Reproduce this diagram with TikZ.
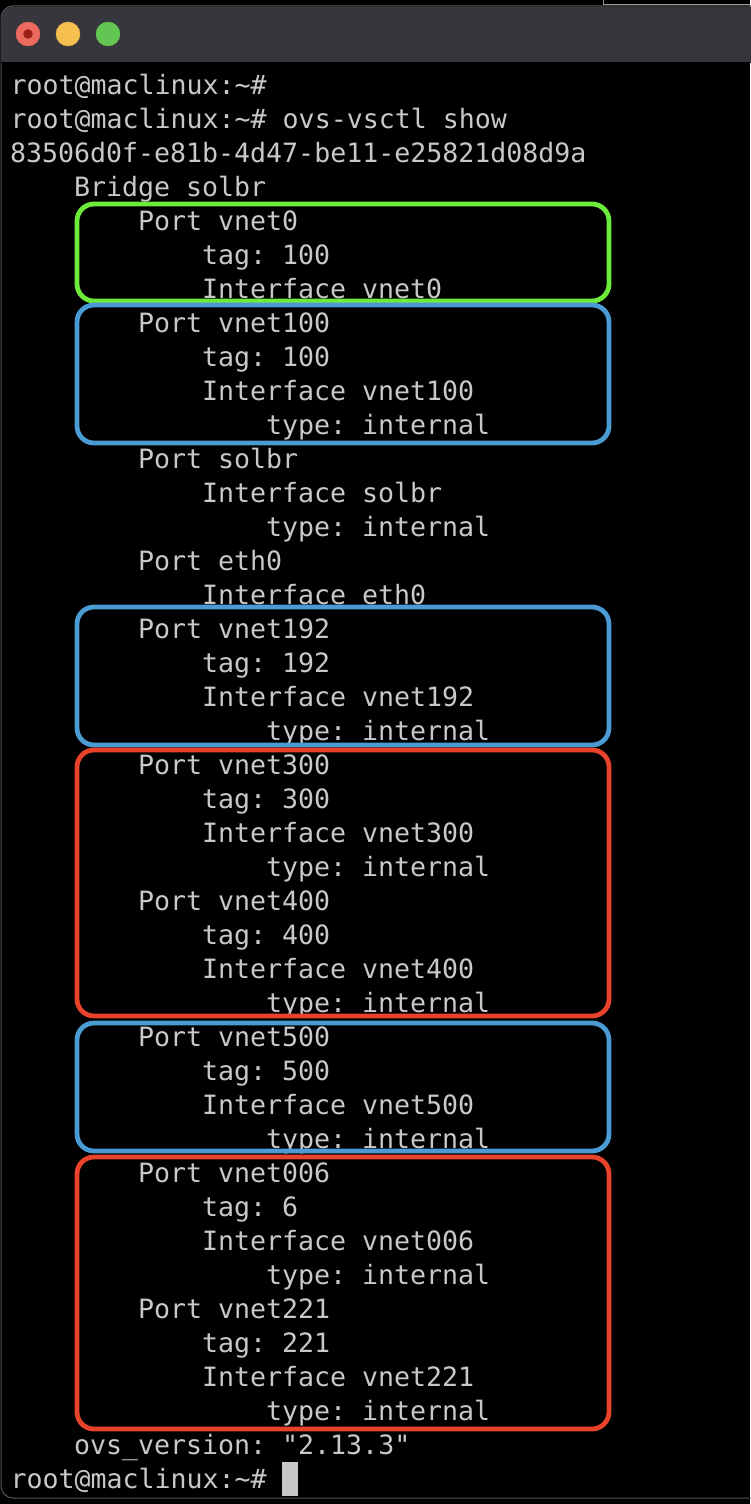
\documentclass[tikz,border=0pt]{standalone}
\usepackage{fontspec}
\newfontfamily\termfont{DejaVu Sans Mono}
\definecolor{termtext}{HTML}{C8C8C8}
\definecolor{titlebar}{HTML}{38363D}
\definecolor{windowedge}{HTML}{55555A}
\definecolor{lightred}{HTML}{EC6A5E}
\definecolor{lightdot}{HTML}{9A1F17}
\definecolor{lightyellow}{HTML}{F4BF4F}
\definecolor{lightgreen}{HTML}{62C554}
\definecolor{framegreen}{HTML}{6CEB3A}
\definecolor{frameblue}{HTML}{4A9BD4}
\definecolor{framered}{HTML}{E8432A}
\tikzset{
  termline/.style={anchor=base west, inner sep=0pt, outer sep=0pt, text=termtext,
    font=\termfont\frenchspacing\fontsize{26.6}{34}\selectfont},
  portframe/.style={line width=4.8pt, rounded corners=17pt},
}
\begin{document}
\begin{tikzpicture}[x=1pt, y=-1pt]
    \useasboundingbox (0,0) rectangle (750,1504);
    \fill[black] (0,0) rectangle (750,1504);

    % window
    \draw[windowedge, line width=1pt, rounded corners=12pt] (751,1498) -- (1,1498) -- (1,6) -- (751,6);
    \fill[titlebar, rounded corners=12pt] (1.5,63) -- (1.5,6.5) -- (762,6.5) -- (762,63) -- cycle;
    \fill[titlebar] (1.5,40) rectangle (750,62);
    \draw[black, line width=1.5pt] (1,62.5) -- (750,62.5);
    \draw[windowedge!60, line width=1pt] (603,0) -- (603,5);
    \draw[windowedge!60, line width=1pt] (603,5) -- (750,5);

    \filldraw[lightred] (28,34) circle (12);
    \filldraw[lightdot] (28,34) circle (4.5);
    \filldraw[lightyellow] (68,34) circle (12);
    \filldraw[lightgreen] (108,34) circle (12);

    % terminal lines
    \node[termline] (prompta) at (10.5,94) {root@maclinux:\textasciitilde\#};
    \node[termline] (promptb) at (10.5,128) {root@maclinux:\textasciitilde\# ovs-vsctl show};
    \node[termline] (uuid) at (10,162) {83506d0f-e81b-4d47-be11-e25821d08d9a};
    \node[termline] (bridge) at (74,196) {Bridge solbr};

    \node[termline] (portvneta) at (138,230) {Port vnet0};
    \node[termline] (tagvneta) at (202,264) {tag: 100};
    \node[termline] (ifvneta) at (202,298) {Interface vnet0};

    \node[termline] (portvnetb) at (138,332) {Port vnet100};
    \node[termline] (tagvnetb) at (202,366) {tag: 100};
    \node[termline] (ifvnetb) at (202,400) {Interface vnet100};
    \node[termline] (typevnetb) at (266,434) {type: internal};

    \node[termline] (portsolbr) at (138,468) {Port solbr};
    \node[termline] (ifsolbr) at (202,502) {Interface solbr};
    \node[termline] (typesolbr) at (266,536) {type: internal};

    \node[termline] (porteth) at (138,570) {Port eth0};
    \node[termline] (ifeth) at (202,604) {Interface eth0};

    \node[termline] (portvnetc) at (138,638) {Port vnet192};
    \node[termline] (tagvnetc) at (202,672) {tag: 192};
    \node[termline] (ifvnetc) at (202,706) {Interface vnet192};
    \node[termline] (typevnetc) at (266,740) {type: internal};

    \node[termline] (portvnetd) at (138,774) {Port vnet300};
    \node[termline] (tagvnetd) at (202,808) {tag: 300};
    \node[termline] (ifvnetd) at (202,842) {Interface vnet300};
    \node[termline] (typevnetd) at (266,876) {type: internal};

    \node[termline] (portvnete) at (138,910) {Port vnet400};
    \node[termline] (tagvnete) at (202,944) {tag: 400};
    \node[termline] (ifvnete) at (202,978) {Interface vnet400};
    \node[termline] (typevnete) at (266,1012) {type: internal};

    \node[termline] (portvnetf) at (138,1046) {Port vnet500};
    \node[termline] (tagvnetf) at (202,1080) {tag: 500};
    \node[termline] (ifvnetf) at (202,1114) {Interface vnet500};
    \node[termline] (typevnetf) at (266,1148) {type: internal};

    \node[termline] (portvnetg) at (138,1182) {Port vnet006};
    \node[termline] (tagvnetg) at (202,1216) {tag: 6};
    \node[termline] (ifvnetg) at (202,1250) {Interface vnet006};
    \node[termline] (typevnetg) at (266,1284) {type: internal};

    \node[termline] (portvneth) at (138,1318) {Port vnet221};
    \node[termline] (tagvneth) at (202,1352) {tag: 221};
    \node[termline] (ifvneth) at (202,1386) {Interface vnet221};
    \node[termline] (typevneth) at (266,1420) {type: internal};

    \node[termline] (version) at (74,1454) {ovs\_version: "2.13.3"};
    \node[termline] (promptc) at (10.5,1488) {root@maclinux:\textasciitilde\#};

    \fill[termtext] (282,1462) rectangle (298,1496);

    % port frames
    \draw[portframe, framegreen] (77,204) rectangle (609,301);
    \draw[portframe, frameblue] (77,305) rectangle (609,443);
    \draw[portframe, frameblue] (77,607) rectangle (609,745);
    \draw[portframe, framered] (77,750) rectangle (609,1016);
    \draw[portframe, frameblue] (77,1023) rectangle (609,1151);
    \draw[portframe, framered] (77,1157) rectangle (609,1429);
\end{tikzpicture}
\end{document}
